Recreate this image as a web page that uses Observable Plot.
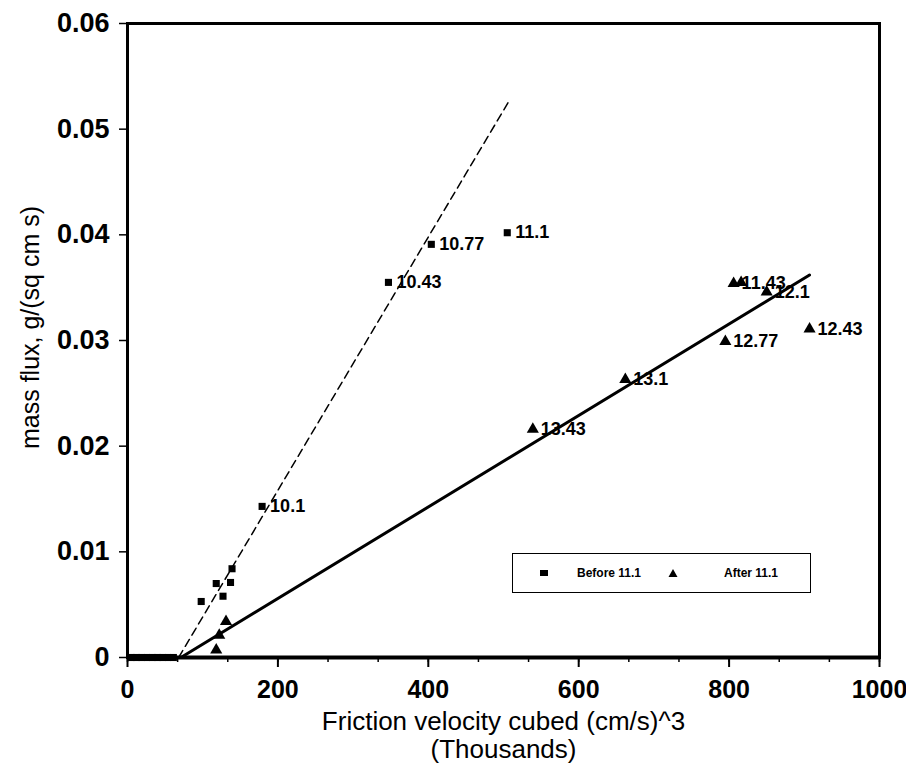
<!DOCTYPE html>
<html>
<head>
<meta charset="utf-8">
<script src="https://cdn.jsdelivr.net/npm/d3@7"></script>
<script src="https://cdn.jsdelivr.net/npm/@observablehq/plot@0.6"></script>
<style>
  body { margin: 0; background: #fff; font-family: "Liberation Sans", Arial, sans-serif; }
  #wrap { position: relative; width: 906px; height: 773px; }
  #legend { position: absolute; left: 512px; top: 553px; width: 299px; height: 40px;
    border: 1.5px solid #000; background: #fff; box-sizing: border-box;
    font-size: 12px; font-weight: bold; color: #000; }
  #legend .it { position: absolute; top: 12px; display: flex; align-items: center; }
</style>
</head>
<body>
<div id="wrap">
  <div id="chart"></div>
  <div id="legend">
    <div class="it" style="left:26px"><svg width="10" height="10"><rect x="1" y="2" width="8" height="6" fill="#000"/></svg><span style="margin-left:28px">Before 11.1</span></div>
    <div class="it" style="left:155px"><svg width="10" height="10"><path d="M5,1 L9.5,9 L0.5,9 Z" fill="#000"/></svg><span style="margin-left:46px">After 11.1</span></div>
  </div>
</div>
<script>
// Before 11.1 (squares)
const beforeX = [5, 12, 19, 26, 33, 40, 47, 54, 61, 98, 118, 127, 137, 139, 179, 347, 404, 505];
const beforeY = [0, 0, 0, 0, 0, 0, 0, 0, 0, 0.0053, 0.0070, 0.0058, 0.0071, 0.0084, 0.0143, 0.0355, 0.0391, 0.0402];
const beforeLabel = ["", "", "", "", "", "", "", "", "", "", "", "", "", "", "10.1", "10.43", "10.77", "11.1"];

// After 11.1 (triangles)
const afterX = [118, 122, 131, 539, 662, 795, 806, 816, 850, 907];
const afterY = [0.0007, 0.0021, 0.0034, 0.0216, 0.0263, 0.0299, 0.0354, 0.0355, 0.0346, 0.0311];
const afterLabel = ["", "", "", "13.43", "13.1", "12.77", "11.43", "", "12.1", "12.43"];

// Fitted lines
const dashedX = [68, 506];
const dashedY = [0, 0.0525];
const solidX = [71, 907];
const solidY = [0, 0.0362];

// Ticks
const xTicks = [0, 200, 400, 600, 800, 1000];
const xMinorTicks = d3.range(0, 1000.01, 1000 / 15);
const yTicks = [0, 0.01, 0.02, 0.03, 0.04, 0.05, 0.06];

const xTitle = "Friction velocity cubed (cm/s)^3";
const xTitle2 = "(Thousands)";
const yTitle = "mass flux, g/(sq cm s)";

const before = beforeX.map((x, i) => ({x, y: beforeY[i], label: beforeLabel[i]}));
const after = afterX.map((x, i) => ({x, y: afterY[i], label: afterLabel[i]}));
const dashed = dashedX.map((x, i) => ({x, y: dashedY[i]}));
const solid = solidX.map((x, i) => ({x, y: solidY[i]}));

const chart = Plot.plot({
  width: 906,
  height: 773,
  marginLeft: 127,
  marginRight: 27,
  marginTop: 23,
  marginBottom: 116,
  x: {domain: [0, 1000]},
  y: {domain: [0, 0.06]},
  style: {fontFamily: "'Liberation Sans', Arial, sans-serif", background: "#fff", color: "#000"},
  marks: [
    Plot.axisY({ticks: yTicks, tickFormat: d => d === 0 ? "0" : d.toFixed(2), tickSize: 8, tickPadding: 10,
      fontSize: 27, fontWeight: "bold", strokeWidth: 1.5, label: null}),
    Plot.axisX({ticks: xMinorTicks, tickSize: 5, tickFormat: () => "", strokeWidth: 1.5, label: null}),
    Plot.axisX({ticks: xTicks, tickSize: 10, tickPadding: 13, tickFormat: d => String(d), fontSize: 25,
      fontWeight: "bold", strokeWidth: 2, label: null}),
    Plot.frame({stroke: "#000", strokeWidth: 3}),
    Plot.line(dashed, {x: "x", y: "y", stroke: "#000", strokeWidth: 1.5, strokeDasharray: "8,5"}),
    Plot.line(solid, {x: "x", y: "y", stroke: "#000", strokeWidth: 3}),
    Plot.ruleY([0], {stroke: "#000", strokeWidth: 4}),
    Plot.dot(before, {x: "x", y: "y", symbol: "square", r: 4, fill: "#000", stroke: null}),
    Plot.dot(after, {x: "x", y: "y", symbol: "triangle", r: 4.5, fill: "#000", stroke: null}),
    Plot.text(before.filter(d => d.label), {x: "x", y: "y", text: "label", dx: 8, textAnchor: "start",
      fontSize: 18, fontWeight: "bold", fill: "#000"}),
    Plot.text(after.filter(d => d.label), {x: "x", y: "y", text: "label", dx: 8, textAnchor: "start",
      fontSize: 18, fontWeight: "bold", fill: "#000"}),
    Plot.text([xTitle], {frameAnchor: "bottom", dy: 72, fontSize: 26, fill: "#000"}),
    Plot.text([xTitle2], {frameAnchor: "bottom", dy: 100, fontSize: 26, fill: "#000"}),
    Plot.text([yTitle], {frameAnchor: "left", textAnchor: "middle", dx: -97, dy: -13, rotate: -90,
      fontSize: 25, fill: "#000"})
  ]
});
document.getElementById("chart").appendChild(chart);
</script>
</body>
</html>
